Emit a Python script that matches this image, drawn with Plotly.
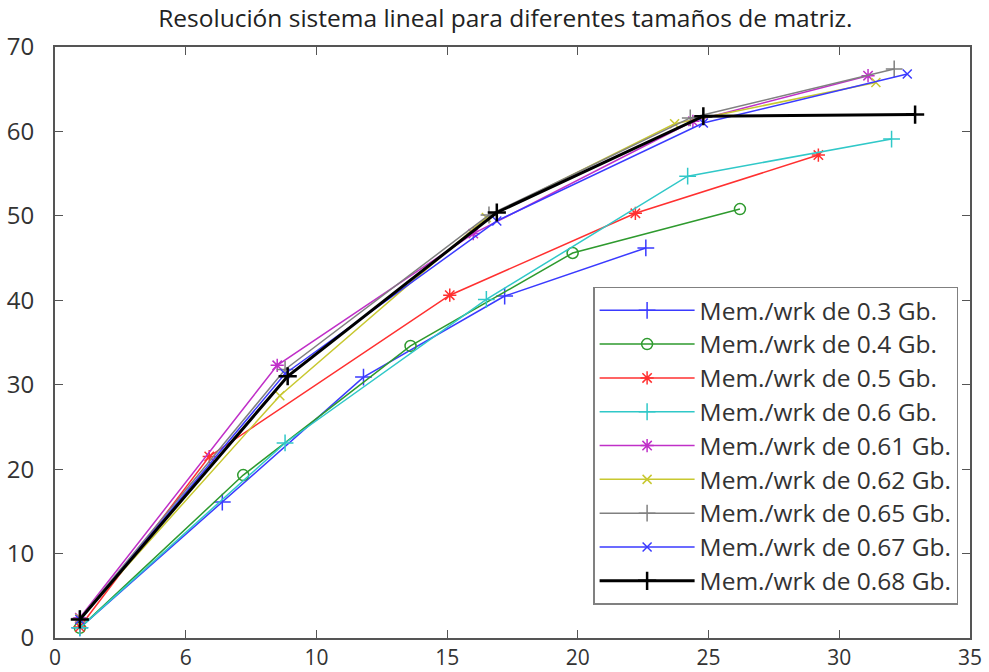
import plotly.graph_objects as go

names = ["Mem./wrk de 0.3 Gb.", "Mem./wrk de 0.4 Gb.", "Mem./wrk de 0.5 Gb.",
         "Mem./wrk de 0.6 Gb.", "Mem./wrk de 0.61 Gb.", "Mem./wrk de 0.62 Gb.",
         "Mem./wrk de 0.65 Gb.", "Mem./wrk de 0.67 Gb.", "Mem./wrk de 0.68 Gb."]

x03 = [0.95, 6.4, 11.8, 17.2, 22.6]
y03 = [1.2, 16.1, 30.9, 40.5, 46.2]
x04 = [0.95, 7.2, 13.6, 19.8, 26.2]
y04 = [1.2, 19.3, 34.6, 45.6, 50.8]
x05 = [0.95, 5.9, 15.1, 22.2, 29.2]
y05 = [1.3, 21.5, 40.6, 50.3, 57.2]
x06 = [0.95, 8.8, 16.5, 24.2, 32.0]
y06 = [1.2, 23.1, 40.1, 54.7, 59.1]
x061 = [0.95, 8.5, 16.0, 24.4, 31.1]
y061 = [2.4, 32.3, 47.9, 61.2, 66.6]
x062 = [0.95, 8.6, 16.5, 23.7, 31.4]
y062 = [2.3, 28.7, 49.8, 60.9, 65.8]
x065 = [0.95, 8.8, 16.6, 24.3, 32.1]
y065 = [2.3, 31.8, 50.1, 61.6, 67.4]
x067 = [0.95, 8.8, 16.9, 24.8, 32.6]
y067 = [2.2, 31.3, 49.4, 61.0, 66.8]
x068 = [0.95, 8.9, 16.9, 24.8, 32.9]
y068 = [2.2, 31.0, 50.4, 61.8, 62.0]

xs = [x03, x04, x05, x06, x061, x062, x065, x067, x068]
ys = [y03, y04, y05, y06, y061, y062, y065, y067, y068]

x_tickvals = [0, 5, 10, 15, 20, 25, 30, 35]
x_ticktext = ["0", "6", "10", "15", "20", "25", "30", "35"]
y_tickvals = [0, 10, 20, 30, 40, 50, 60, 70]

colors = ["#3a3aff", "#2e9a2e", "#ff3030", "#30c8c8", "#c030c8",
          "#c8c830", "#808080", "#3a3aff", "#000000"]
symbols = ["cross-thin-open", "circle-open", "asterisk-open", "cross-thin-open",
           "asterisk-open", "x-thin-open", "cross-thin-open", "x-thin-open",
           "cross-thin-open"]
widths = [1.5, 1.5, 1.5, 1.5, 1.5, 1.5, 1.5, 1.5, 3]
msizes = [12, 11, 11, 12, 11, 9, 12, 9, 13]

fig = go.Figure()
for n, x, y, c, s, w, ms in zip(names, xs, ys, colors, symbols, widths, msizes):
    fig.add_trace(go.Scatter(
        x=x, y=y, name="<span style='font-size:24.5px'>" + n + "</span>",
        mode="lines+markers",
        line=dict(color=c, width=w),
        marker=dict(symbol=s, size=ms, color=c, line=dict(color=c, width=max(1.5, w - 0.5))),
    ))

fig.update_layout(
    width=989, height=672,
    margin=dict(l=55, r=19, t=47, b=34),
    paper_bgcolor="white", plot_bgcolor="white",
    font=dict(family="Open Sans", size=19, color="#222222"),
    title=dict(text="Resolución sistema lineal para diferentes tamaños de matriz.",
               x=0.511, xanchor="center", y=0.973, yanchor="middle",
               font=dict(family="Open Sans", size=24.5, color="#222222")),
    showlegend=True,
    legend=dict(x=0.987, y=0.056, xanchor="right", yanchor="bottom",
                bgcolor="white", bordercolor="#808080", borderwidth=1.5,
                font=dict(family="Open Sans", size=23.7, color="#333333"),
                itemwidth=95, tracegroupgap=0),
)
fig.update_xaxes(range=[0, 35], tickvals=x_tickvals, ticktext=x_ticktext,
                 showgrid=False, zeroline=False, showline=True, linecolor="#555555",
                 linewidth=2, mirror="allticks", ticks="inside", ticklen=8,
                 tickcolor="#555555", tickfont=dict(size=21, color="#333333"),
                 automargin=False, ticklabelstandoff=0)
fig.update_yaxes(range=[0, 70], tickvals=y_tickvals,
                 showgrid=False, zeroline=False, showline=True, linecolor="#555555",
                 linewidth=2, mirror="allticks", ticks="inside", ticklen=8,
                 tickcolor="#555555", tickfont=dict(size=24, color="#333333"),
                 automargin=False, ticklabelstandoff=14)

fig.write_html("out.html", config={"displayModeBar": False},
               post_script="document.body.style.margin='0';document.body.style.overflow='hidden';")
